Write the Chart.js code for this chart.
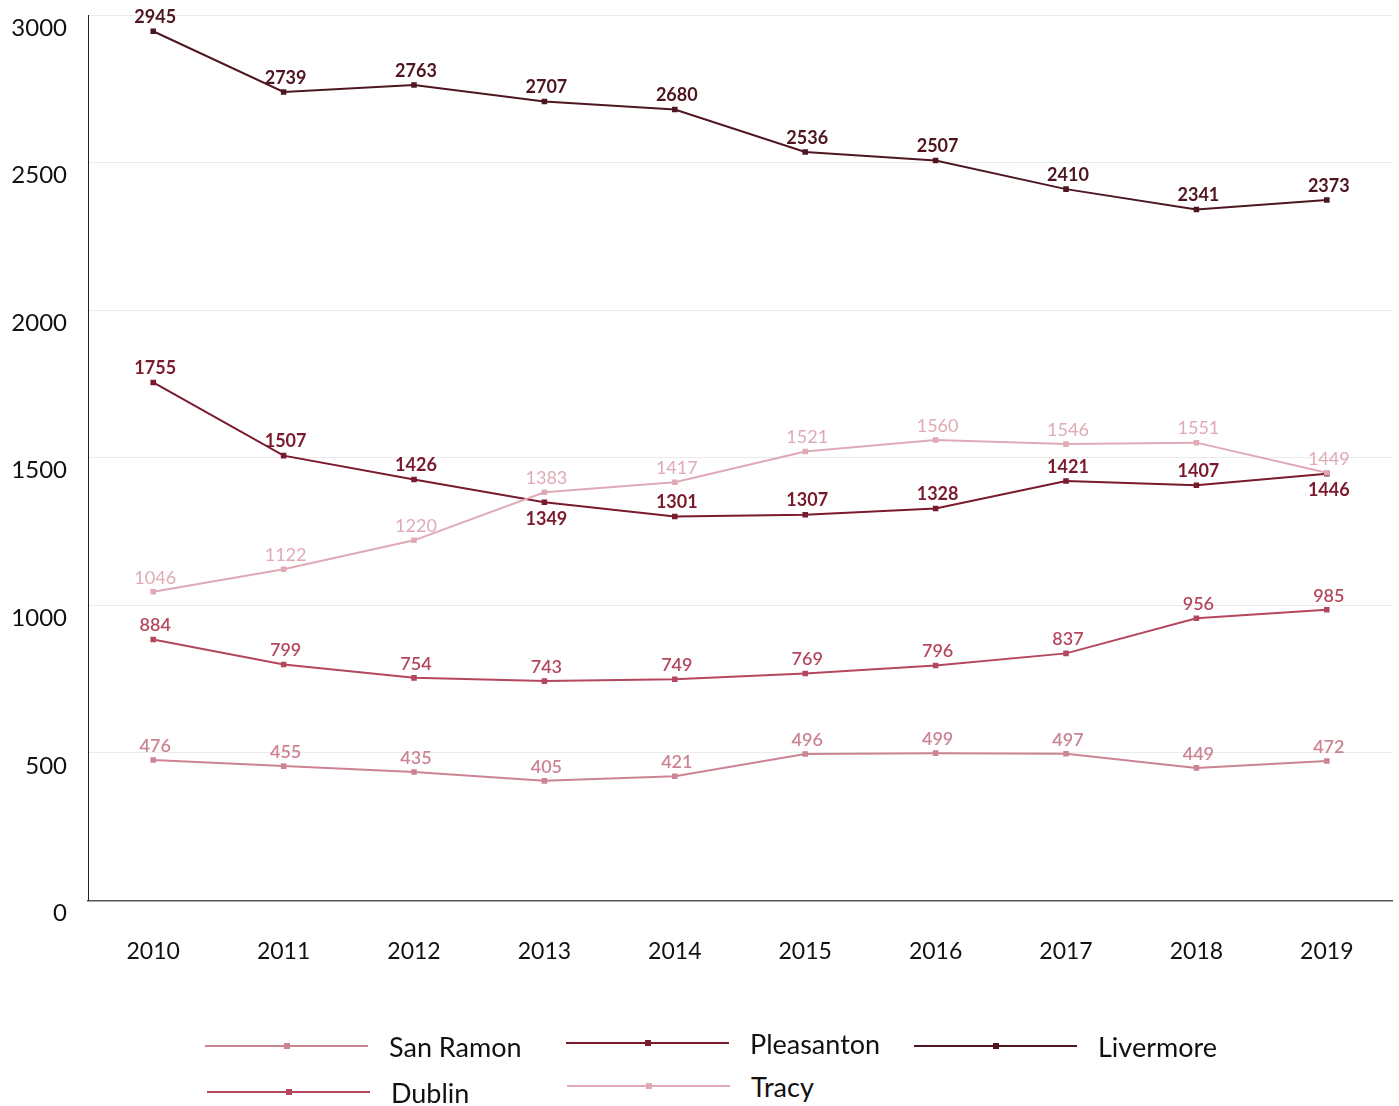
<!DOCTYPE html>
<html>
<head>
<meta charset="utf-8">
<title>Annual totals by city</title>
<script src="https://cdn.jsdelivr.net/npm/chart.js@4.4.1/dist/chart.umd.min.js"></script>
<style>
  body { margin: 0; background: #fff; font-family: Lato, "Open Sans", sans-serif; }
  #wrap { position: absolute; left: 0; top: 0; width: 1399px; height: 1032px; }
  .legend-item { position: absolute; display: flex; align-items: center; }
  .legend-line { position: relative; width: 163px; height: 2px; }
  .legend-line span { position: absolute; left: 79px; top: -2px; width: 6px; height: 6px; }
  .legend-text { margin-left: 21px; font-size: 27px; color: #111; }
</style>
</head>
<body>
<div id="wrap"><canvas id="cityChart"></canvas></div>
<div id="legend"></div>
<script>
// years on the x axis
const years = ["2010", "2011", "2012", "2013", "2014", "2015", "2016", "2017", "2018", "2019"];

// yearly values per city
const sanRamon = [476, 455, 435, 405, 421, 496, 499, 497, 449, 472];
const dublin = [884, 799, 754, 743, 749, 769, 796, 837, 956, 985];
const pleasanton = [1755, 1507, 1426, 1349, 1301, 1307, 1328, 1421, 1407, 1446];
const tracy = [1046, 1122, 1220, 1383, 1417, 1521, 1560, 1546, 1551, 1449];
const livermore = [2945, 2739, 2763, 2707, 2680, 2536, 2507, 2410, 2341, 2373];

const yTicks = [0, 500, 1000, 1500, 2000, 2500, 3000];

const makeSeries = (label, data, color, weight, extra) => Object.assign({
  label,
  data,
  borderColor: color,
  backgroundColor: color,
  borderWidth: 2,
  pointStyle: "rect",
  pointRadius: 2.5,
  pointHoverRadius: 2.5,
  tension: 0,
  labelWeight: weight,
}, extra || {});

const datasets = [
  makeSeries("San Ramon", sanRamon, "#cc8494", "600"),
  makeSeries("Dublin", dublin, "#b4475d", "600"),
  makeSeries("Tracy", tracy, "#dfaab5", "400"),
  makeSeries("Pleasanton", pleasanton, "#7a1a2d", "700", { labelBelow: [3, 9] }),
  makeSeries("Livermore", livermore, "#4d1620", "700"),
];

// value text above (or below) every point
const valueLabels = {
  id: "valueLabels",
  afterDatasetsDraw(chart) {
    const ctx = chart.ctx;
    chart.data.datasets.forEach((ds, i) => {
      const meta = chart.getDatasetMeta(i);
      ctx.save();
      ctx.font = `${ds.labelWeight} 18px Lato, "Open Sans", sans-serif`;
      ctx.fillStyle = ds.borderColor;
      ctx.textAlign = "center";
      ctx.textBaseline = "middle";
      meta.data.forEach((pt, j) => {
        const below = (ds.labelBelow || []).includes(j);
        ctx.fillText(String(ds.data[j]), pt.x + 2, below ? pt.y + 17 : pt.y - 14);
      });
      ctx.restore();
    });
  },
};

const chart = new Chart(document.getElementById("cityChart"), {
  type: "line",
  data: { labels: years, datasets },
  options: {
    responsive: true,
    maintainAspectRatio: false,
    animation: false,
    layout: { padding: { left: 0, right: 7, top: 15, bottom: 30 } },
    plugins: {
      legend: { display: false },
      tooltip: { enabled: false },
    },
    scales: {
      x: {
        offset: true,
        grid: { display: false, drawTicks: false },
        border: { display: true, color: "#555", width: 1.5 },
        ticks: { color: "#111", font: { size: 23, family: "Lato" }, padding: 37 },
      },
      y: {
        min: 0,
        max: 3000,
        afterFit: (scale) => { scale.width = 88; },
        afterBuildTicks: (scale) => { scale.ticks = yTicks.map((v) => ({ value: v })); },
        grid: { color: "#ebebeb", drawTicks: true, tickLength: 21, tickColor: "rgba(0,0,0,0)" },
        border: { display: true, color: "#222", width: 1 },
        ticks: {
          color: "#111",
          font: { size: 24, family: "Lato" },
          padding: 0,
          labelOffset: 13,
          callback: (v) => String(v),
        },
      },
    },
  },
  plugins: [valueLabels],
});

// legend below the plot, two rows
const legendSlots = {
  "San Ramon": [205, 1046],
  "Pleasanton": [566, 1043],
  "Livermore": [914, 1046],
  "Dublin": [207, 1092],
  "Tracy": [567, 1086],
};
const legend = document.getElementById("legend");
datasets.forEach((ds) => {
  const [x, y] = legendSlots[ds.label];
  const item = document.createElement("div");
  item.className = "legend-item";
  item.style.left = x + "px";
  item.style.top = (y - 16) + "px";
  item.style.height = "32px";
  item.innerHTML =
    `<div class="legend-line" style="background:${ds.borderColor}"><span style="background:${ds.borderColor}"></span></div>` +
    `<div class="legend-text">${ds.label}</div>`;
  legend.appendChild(item);
});
</script>
</body>
</html>
